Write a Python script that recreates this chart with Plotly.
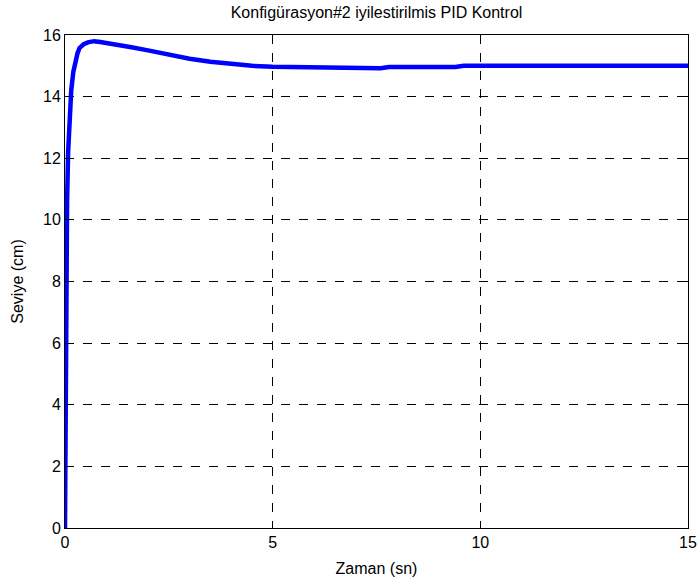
import plotly.graph_objects as go

t = [0, 0.01, 0.02, 0.035, 0.05, 0.075, 0.1, 0.15, 0.2, 0.25, 0.3, 0.35, 0.45, 0.55, 0.7, 0.85, 1.0, 1.3, 1.6, 2.0, 2.5, 3.0, 3.5, 4.0, 4.5, 5.0, 5.5, 5.8, 7.6, 7.8, 9.4, 9.6, 12.5, 15.0]
y = [0, 3.5, 6.5, 9.0, 10.6, 12.2, 13.2, 14.2, 14.8, 15.15, 15.4, 15.58, 15.7, 15.76, 15.8, 15.77, 15.74, 15.68, 15.6, 15.5, 15.36, 15.23, 15.13, 15.06, 15.0, 14.97, 14.96, 14.92, 14.92, 14.96, 14.96, 15.0, 15.0, 15.0]

x_ticks = [0, 5, 10, 15]
y_ticks = [0, 2, 4, 6, 8, 10, 12, 14, 16]

FONT = "Liberation Sans, Arial, Helvetica"

fig = go.Figure()
fig.add_trace(go.Scatter(x=t, y=y, mode="lines", line=dict(color="#0000ff", width=4.5), showlegend=False))

axis_common = dict(
    showline=True, linecolor="black", linewidth=1, mirror="ticks",
    ticks="inside", ticklen=5, tickcolor="black",
    showgrid=True, gridcolor="black", gridwidth=0.7, griddash="dash",
    zeroline=False, automargin=False,
    tickfont=dict(family=FONT, size=16, color="black"),
)

fig.update_layout(
    width=700, height=585,
    margin=dict(l=65, r=12, t=35, b=57),
    plot_bgcolor="white", paper_bgcolor="white",
    font=dict(family=FONT, size=16, color="black"),
    title=dict(text="Konfigürasyon#2 iyilestirilmis PID Kontrol", x=0.5, xanchor="center",
               y=1 - 12 / 585, yanchor="middle", xref="paper",
               font=dict(family=FONT, size=16, color="black")),
    xaxis=dict(range=[0, 15], tickvals=x_ticks,
               title=dict(text="Zaman (sn)", standoff=12, font=dict(family=FONT, size=16, color="black")),
               **axis_common),
    yaxis=dict(range=[0, 16], tickvals=y_ticks,
               title=dict(text="Seviye (cm)", standoff=15, font=dict(family=FONT, size=16, color="black")),
               **axis_common),
)

fig.write_html("out.html")
